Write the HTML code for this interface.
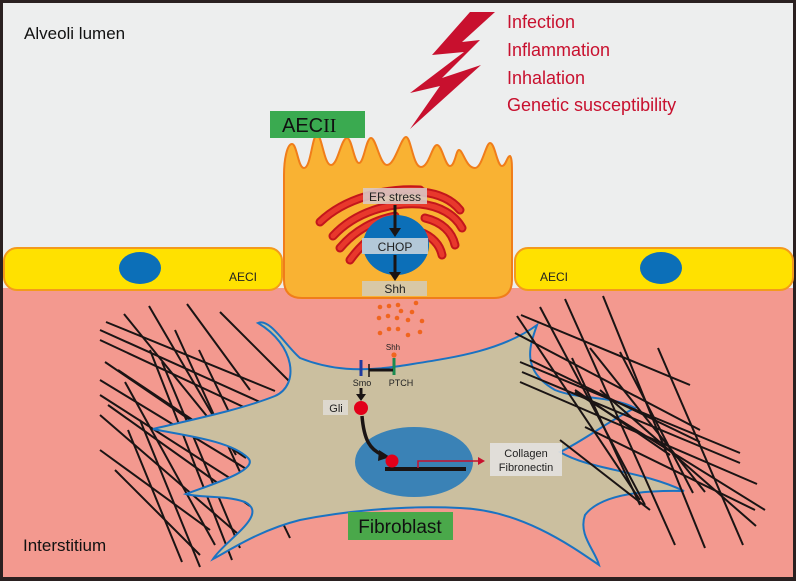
<!DOCTYPE html>
<html><head><meta charset="utf-8"><style>
html,body{margin:0;padding:0;background:#2a2020;}
svg{display:block;font-family:"Liberation Sans",sans-serif;}
</style></head><body>
<svg width="796" height="581" viewBox="0 0 796 581" xmlns="http://www.w3.org/2000/svg">
<rect x="0" y="0" width="796" height="581" fill="#2a2020"/>
<rect x="3" y="3" width="790" height="286" fill="#edeeee"/>
<rect x="3" y="288" width="790" height="289" fill="#f3998f"/>

<!-- fibers left -->
<g stroke="#1a1414" stroke-width="2" fill="none">
<line x1="106" y1="322" x2="275" y2="391"/>
<line x1="100" y1="330" x2="260" y2="402"/>
<line x1="100" y1="340" x2="250" y2="410"/>
<line x1="105" y1="362" x2="246" y2="458"/>
<line x1="100" y1="380" x2="248" y2="470"/>
<line x1="118" y1="370" x2="251" y2="459"/>
<line x1="100" y1="395" x2="264" y2="500"/>
<line x1="108" y1="405" x2="250" y2="506"/>
<line x1="100" y1="415" x2="245" y2="540"/>
<line x1="125" y1="382" x2="215" y2="545"/>
<line x1="124" y1="314" x2="210" y2="420"/>
<line x1="149" y1="306" x2="236" y2="455"/>
<line x1="187" y1="304" x2="250" y2="390"/>
<line x1="150" y1="350" x2="232" y2="560"/>
<line x1="162" y1="362" x2="240" y2="548"/>
<line x1="175" y1="330" x2="262" y2="520"/>
<line x1="199" y1="350" x2="290" y2="538"/>
<line x1="100" y1="450" x2="210" y2="530"/>
<line x1="115" y1="470" x2="200" y2="555"/>
<line x1="128" y1="430" x2="182" y2="562"/>
<line x1="140" y1="420" x2="200" y2="567"/>
<line x1="220" y1="312" x2="300" y2="392"/>
</g>

<!-- fibroblast -->
<path d="M258,323 C270,318 285,345 300,358 C330,370 360,372 400,366 C450,358 500,352 537,325 C530,345 520,370 555,390 C580,400 610,395 635,408 C610,420 585,440 560,452 C590,470 640,470 684,491 C640,490 600,495 585,515 C578,535 595,550 599,565 C570,545 520,510 460,508 C400,505 340,512 300,520 C260,530 230,550 213,559 C225,540 270,515 245,502 C225,495 200,498 186,494 C210,485 260,470 248,458 C230,440 180,435 153,429 C190,420 240,410 275,396 C300,385 295,345 258,323 Z" fill="#cbbf9f" stroke="#1a73c2" stroke-width="2"/>
<ellipse cx="414" cy="462" rx="59" ry="35" fill="#3a82b6"/>

<!-- fibers right (over cell) -->
<g stroke="#1a1414" stroke-width="2" fill="none">
<line x1="521" y1="315" x2="690" y2="385"/>
<line x1="515" y1="333" x2="700" y2="430"/>
<line x1="520" y1="362" x2="740" y2="453"/>
<line x1="522" y1="372" x2="740" y2="463"/>
<line x1="520" y1="382" x2="757" y2="484"/>
<line x1="530" y1="360" x2="700" y2="442"/>
<line x1="575" y1="392" x2="765" y2="510"/>
<line x1="585" y1="427" x2="755" y2="510"/>
<line x1="600" y1="390" x2="756" y2="526"/>
<line x1="517" y1="316" x2="640" y2="500"/>
<line x1="540" y1="307" x2="645" y2="505"/>
<line x1="565" y1="299" x2="675" y2="545"/>
<line x1="603" y1="296" x2="705" y2="548"/>
<line x1="658" y1="348" x2="743" y2="545"/>
<line x1="620" y1="352" x2="693" y2="493"/>
<line x1="572" y1="358" x2="640" y2="505"/>
<line x1="590" y1="348" x2="705" y2="492"/>
<line x1="560" y1="440" x2="650" y2="510"/>
<line x1="575" y1="390" x2="670" y2="455"/>
</g>

<!-- AECI bars -->
<rect x="4" y="248" width="278" height="42" rx="13" fill="#ffe100" stroke="#f39a1c" stroke-width="2"/>
<ellipse cx="140" cy="268" rx="21" ry="16" fill="#0c6fb8"/>
<text x="229" y="281" font-size="12" fill="#222">AECI</text>
<rect x="515" y="248" width="278" height="42" rx="13" fill="#ffe100" stroke="#f39a1c" stroke-width="2"/>
<ellipse cx="661" cy="268" rx="21" ry="16" fill="#0c6fb8"/>
<text x="540" y="281" font-size="12" fill="#222">AECI</text>

<!-- AECII cell -->
<path d="M284,175 C284,160 287,144 292,144 C297,144 298,168 304,168 C311,168 312,135 317,135 C322,135 324,165 331,165 C338,165 341,138 347,138 C352,138 354,163 359,163 C364,163 366,138 371,138 C376,138 380,165 387,165 C395,165 401,137 406,137 C411,137 413,167 421,167 C429,167 432,145 437,145 C442,145 445,166 450,166 C455,166 456,150 459,150 C463,150 466,168 475,168 C482,168 486,143 490,143 C495,143 497,166 502,166 C506,166 507,156 510,156 C512,158 512,165 512,175 L512,280 Q512,298 494,298 L302,298 Q284,298 284,280 Z" fill="#f9b233" stroke="#f07d1a" stroke-width="2"/>

<!-- ER -->
<g fill="none" stroke-linecap="round">
<g stroke="#c3161c" stroke-width="9">
<path d="M320,222 C345,198 385,188 420,190"/>
<path d="M333,236 C355,212 390,202 420,204 C440,206 455,215 462,228"/>
<path d="M340,248 C355,230 375,220 395,216"/>
<path d="M350,260 C360,246 372,236 384,230"/>
<path d="M425,218 C442,222 452,232 455,245"/>
<path d="M422,192 C440,194 452,200 460,210"/>
<path d="M420,232 C432,236 440,245 442,255"/>
</g>
<g stroke="#e8382c" stroke-width="5">
<path d="M320,222 C345,198 385,188 420,190"/>
<path d="M333,236 C355,212 390,202 420,204 C440,206 455,215 462,228"/>
<path d="M340,248 C355,230 375,220 395,216"/>
<path d="M350,260 C360,246 372,236 384,230"/>
<path d="M425,218 C442,222 452,232 455,245"/>
<path d="M422,192 C440,194 452,200 460,210"/>
<path d="M420,232 C432,236 440,245 442,255"/>
</g>
</g>
<ellipse cx="396" cy="245" rx="33" ry="30" fill="#0c6fb8"/>
<rect x="363" y="188" width="64" height="16" fill="#d9c8c4" opacity="0.9"/>
<text x="395" y="201" font-size="12" text-anchor="middle" fill="#222">ER stress</text>
<rect x="362" y="238" width="66" height="16" fill="#b3c8d8"/>
<text x="395" y="251" font-size="12" text-anchor="middle" fill="#222">CHOP</text>
<rect x="362" y="281" width="65" height="15" fill="#d8c8a6"/>
<text x="395" y="293" font-size="12" text-anchor="middle" fill="#222">Shh</text>
<g stroke="#1a1414" stroke-width="3" fill="#1a1414">
<line x1="395" y1="205" x2="395" y2="229"/>
<path d="M389,228 L401,228 L395,237 Z" stroke-width="0"/>
<line x1="395" y1="255" x2="395" y2="273"/>
<path d="M389,272 L401,272 L395,281 Z" stroke-width="0"/>
</g>

<!-- AECII label -->
<rect x="270" y="111" width="95" height="27" fill="#3aaa50"/>
<text x="282" y="132" font-size="20" fill="#111">AEC<tspan font-family="Liberation Serif,serif">II</tspan></text>

<!-- dots -->
<g fill="#f0651e">
<circle cx="380" cy="307" r="2.3"/><circle cx="389" cy="306" r="2.3"/><circle cx="398" cy="305" r="2.3"/><circle cx="416" cy="303" r="2.3"/>
<circle cx="379" cy="318" r="2.3"/><circle cx="388" cy="316" r="2.3"/><circle cx="397" cy="318" r="2.3"/><circle cx="401" cy="311" r="2.3"/><circle cx="408" cy="320" r="2.3"/><circle cx="412" cy="312" r="2.3"/><circle cx="422" cy="321" r="2.3"/>
<circle cx="380" cy="333" r="2.3"/><circle cx="389" cy="329" r="2.3"/><circle cx="398" cy="329" r="2.3"/><circle cx="408" cy="335" r="2.3"/><circle cx="420" cy="332" r="2.3"/>
</g>

<!-- signaling -->
<text x="393" y="350" font-size="8" text-anchor="middle" fill="#222">Shh</text>
<circle cx="394" cy="355" r="2.6" fill="#f0651e"/>
<line x1="394" y1="358" x2="394" y2="375" stroke="#1a8a50" stroke-width="3"/>
<line x1="361" y1="360" x2="361" y2="376" stroke="#1f3a9e" stroke-width="3"/>
<line x1="369" y1="370" x2="393" y2="370" stroke="#1a1414" stroke-width="3"/>
<line x1="369" y1="364" x2="369" y2="377" stroke="#1a1414" stroke-width="1.5"/>
<text x="362" y="386" font-size="9" text-anchor="middle" fill="#222">Smo</text>
<text x="401" y="386" font-size="9" text-anchor="middle" fill="#222">PTCH</text>
<line x1="361" y1="388" x2="361" y2="396" stroke="#1a1414" stroke-width="3"/>
<path d="M356,394 L366,394 L361,401 Z" fill="#1a1414"/>
<rect x="323" y="400" width="25" height="15" fill="#ddd8ce"/>
<text x="336" y="412" font-size="11" text-anchor="middle" fill="#222">Gli</text>
<circle cx="361" cy="408" r="7" fill="#e2001a"/>
<path d="M362,416 C364,440 370,450 383,455" fill="none" stroke="#1a1414" stroke-width="3.5"/>
<path d="M379,450 L390,457 L378,461 Z" fill="#1a1414"/>
<rect x="385" y="467" width="81" height="4" fill="#1a1414"/>
<circle cx="392" cy="461" r="6.5" fill="#e2001a"/>
<path d="M418,468 L418,461 L480,461" fill="none" stroke="#c8102e" stroke-width="1.5"/>
<path d="M478,457 L485,461 L478,465 Z" fill="#c8102e"/>
<rect x="490" y="443" width="72" height="33" fill="#e3e1dd" opacity="0.92"/>
<text x="526" y="457" font-size="11" text-anchor="middle" fill="#222">Collagen</text>
<text x="526" y="471" font-size="11" text-anchor="middle" fill="#222">Fibronectin</text>

<!-- Fibroblast label -->
<rect x="348" y="512" width="105" height="28" fill="#4aa84a"/>
<text x="400" y="533" font-size="19" text-anchor="middle" fill="#111">Fibroblast</text>

<!-- lightning -->
<polygon points="470,12 495,12 462,42 480,40 442,78 481,65 410,129 440,86 410,93 464,52 432,55" fill="#c8102e"/>
<g font-size="18" fill="#c8102e">
<text x="507" y="28">Infection</text>
<text x="507" y="56">Inflammation</text>
<text x="507" y="84">Inhalation</text>
<text x="507" y="111">Genetic susceptibility</text>
</g>
<text x="24" y="39" font-size="17" fill="#111">Alveoli lumen</text>
<text x="23" y="551" font-size="17" fill="#111">Interstitium</text>
</svg>
</body></html>
